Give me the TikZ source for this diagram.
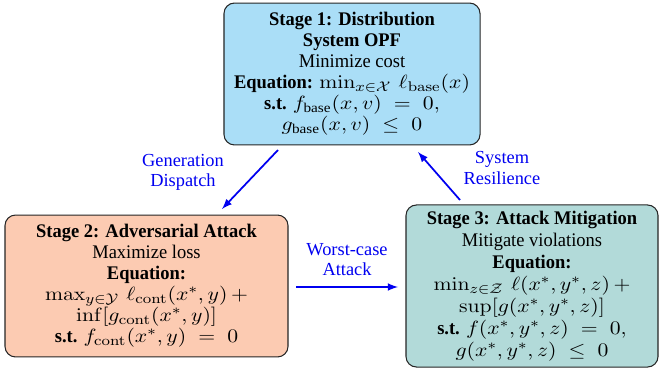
\documentclass[tikz,border=0pt]{standalone}
\usepackage{amsmath,amssymb,graphicx}
\usepackage[no-math]{fontspec}
\setmainfont{Liberation Serif}
\usetikzlibrary{arrows}

\definecolor{opfblue}{RGB}{170,222,247}
\definecolor{atksalmon}{RGB}{252,203,178}
\definecolor{mitteal}{RGB}{178,218,217}
\definecolor{flowblue}{RGB}{0,0,240}

% slightly narrow lettering inside the stage boxes
\newcommand{\stagetext}[2]{\scalebox{0.96}[1]{\parbox{#1}{\centering #2}}}
% math a little wider than the words around it
\newcommand{\wm}[1]{\scalebox{1.18}[1]{$#1$}}

\tikzset{every picture/.style={line width=0.75pt}}
\tikzset{
  stagebox/.style={draw=black!85, rounded corners=6pt, align=center, inner sep=0pt, line width=0.6pt,
    font=\fontsize{11}{12}\selectfont},
  flow/.style={-latex, draw=flowblue, line width=1pt},
  flowlabel/.style={text=flowblue, align=center, font=\fontsize{10.5}{11.5}\selectfont}
}

\begin{document}
\begin{tikzpicture}[x=0.5714pt,y=0.5714pt,yscale=-1,xscale=1]
		\useasboundingbox (0,0) rectangle (659,375);

		% Stage 1 box
		\node [stagebox, fill=opfblue, minimum width=146.3pt, minimum height=81.1pt] (opf) at (352,74)
		  {\stagetext{150pt}{\textbf{Stage 1: Distribution}\\ \textbf{System OPF}\\ Minimize cost\\
		   \textbf{Equation:} \wm{\min_{x\in\mathcal{X}}\,\ell_{\mathrm{base}}(x)}\\
		   \textbf{s.t.} \wm{f_{\text{base}}(x,v) \;=\; 0,}\\
		   \wm{g_{\text{base}}(x,v) \;\leq\; 0}}};
		% Stage 2 box
		\node [stagebox, fill=atksalmon, minimum width=161.7pt, minimum height=81.1pt] (atk) at (146.5,286)
		  {\stagetext{165pt}{\textbf{Stage 2: Adversarial Attack}\\ Maximize loss\\ \textbf{Equation:}\\
		   \wm{\max_{y\in\mathcal{Y}}\,\ell_{\mathrm{cont}}(x^*,y)\,+}\\
		   \wm{\inf[g_{\mathrm{cont}}(x^*,y)]}\\
		   \textbf{s.t.} \wm{f_{\mathrm{cont}}(x^*,y) \;=\; 0}}};
		% Stage 3 box, a bit more room between lines
		\node [stagebox, fill=mitteal, minimum width=144pt, minimum height=92.6pt,
		  font=\fontsize{11}{12.6}\selectfont] (mit) at (532,286)
		  {\stagetext{148pt}{\lineskip=2pt\textbf{Stage 3: Attack Mitigation}\\ Mitigate violations\\ \textbf{Equation:}\\
		   \wm{\min_{z\in\mathcal{Z}}\,\ell(x^*,y^*,z)\,+}\\
		   \wm{\sup[g(x^*,y^*,z)]}\\
		   \textbf{s.t.} \wm{f(x^*,y^*,z) \;=\; 0,}\\
		   \wm{g(x^*,y^*,z) \;\leq\; 0}}};

		% arrow ends
		\coordinate (gdA) at (278,150);
		\coordinate (gdB) at (222,209);
		\coordinate (srA) at (460,200);
		\coordinate (srB) at (418,152);
		\coordinate (wcA) at (296,287);
		\coordinate (wcB) at (398,287);

		\draw [flow] (gdA) -- (gdB);
		\draw [flow] (srA) -- (srB);
		\draw [flow] (wcA) -- (wcB);

		% Text Node
		\node [flowlabel] (gdtext) at (183,172) {Generation\\Dispatch};
		% Text Node
		\node [flowlabel] (srtext) at (502,168) {System\\Resilience};
		% Text Node
		\node [flowlabel] (wctext) at (347,260) {Worst-case\\Attack};

\end{tikzpicture}
\end{document}
